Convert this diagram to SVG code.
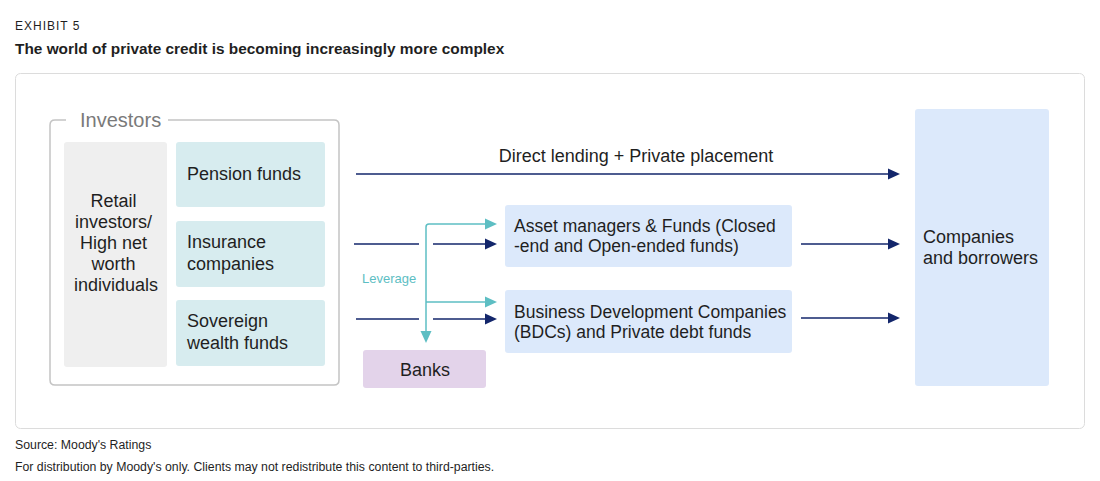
<svg xmlns="http://www.w3.org/2000/svg" width="1100" height="481" viewBox="0 0 1100 481">
  <style>
    text { font-family: "Liberation Sans", Arial, sans-serif; fill: #1f1f1f; }
    .eyebrow { font-size: 12px; letter-spacing: 1px; }
    .title { font-size: 15.4px; font-weight: bold; }
    .foot { font-size: 12.3px; }
    .lbl { font-size: 18px; }
    .mid { font-size: 17.5px; }
    .group { font-size: 20px; fill: #7a7a7a; }
    .lev { font-size: 13px; fill: #5dbec3; }
    .navy { stroke: #13266b; stroke-width: 1.5; fill: none; }
    .teal { stroke: #5dbec3; stroke-width: 1.5; fill: none; }
  </style>
  <defs>
    <marker id="arrNavy" markerUnits="userSpaceOnUse" markerWidth="12" markerHeight="12" refX="0" refY="6" orient="auto">
      <path d="M0,0.5 L12,6 L0,11.5 Z" fill="#13266b"/>
    </marker>
    <marker id="arrTeal" markerUnits="userSpaceOnUse" markerWidth="12" markerHeight="12" refX="0" refY="6" orient="auto">
      <path d="M0,0.5 L12,6 L0,11.5 Z" fill="#5dbec3"/>
    </marker>
  </defs>

  <rect width="1100" height="481" fill="#ffffff"/>

  <!-- heading -->
  <text class="eyebrow" x="15" y="30">EXHIBIT 5</text>
  <text class="title" x="15" y="54">The world of private credit is becoming increasingly more complex</text>

  <!-- chart panel -->
  <rect x="15.5" y="73.5" width="1069" height="355" rx="5" fill="#ffffff" stroke="#dcdcdc"/>

  <!-- investors frame -->
  <g id="investors">
    <path d="M66,120 H55 Q50,120 50,125 V380 Q50,385 55,385 H334 Q339,385 339,380 V125 Q339,120 334,120 H168" fill="none" stroke="#c4c4c4" stroke-width="1.5"/>
    <text class="group" x="80" y="127">Investors</text>
  </g>

  <g id="retail">
    <rect x="64" y="142" width="103" height="225" rx="3" fill="#efefef"/>
    <text class="lbl" text-anchor="middle">
      <tspan x="116" y="207">Retail</tspan>
      <tspan x="116" y="228">investors/</tspan>
      <tspan x="116" y="249">High net</tspan>
      <tspan x="116" y="270">worth</tspan>
      <tspan x="116" y="291">individuals</tspan>
    </text>
  </g>

  <g id="pension">
    <rect x="176" y="142" width="149" height="65" rx="3" fill="#d7ecef"/>
    <text class="lbl" x="187" y="180">Pension funds</text>
  </g>

  <g id="insurance">
    <rect x="176" y="221" width="149" height="66" rx="3" fill="#d7ecef"/>
    <text class="lbl"><tspan x="187" y="248">Insurance</tspan><tspan x="187" y="270">companies</tspan></text>
  </g>

  <g id="sovereign">
    <rect x="176" y="300" width="149" height="66" rx="3" fill="#d7ecef"/>
    <text class="lbl"><tspan x="187" y="327">Sovereign</tspan><tspan x="187" y="349">wealth funds</tspan></text>
  </g>

  <g id="asset-managers">
    <rect x="505" y="205" width="287" height="62" rx="3" fill="#dce9fb"/>
    <text class="mid"><tspan x="514" y="232">Asset managers &amp; Funds (Closed</tspan><tspan x="514" y="252">-end and Open-ended funds)</tspan></text>
  </g>

  <g id="bdc">
    <rect x="505" y="290" width="287" height="63" rx="3" fill="#dce9fb"/>
    <text class="mid"><tspan x="514" y="318">Business Development Companies</tspan><tspan x="514" y="338">(BDCs) and Private debt funds</tspan></text>
  </g>

  <g id="banks">
    <rect x="363" y="350" width="123" height="38" rx="3" fill="#e3d3ea"/>
    <text class="lbl" x="425" y="376" text-anchor="middle">Banks</text>
  </g>

  <g id="companies">
    <rect x="915" y="109" width="134" height="277" rx="3" fill="#dce9fb"/>
    <text class="lbl"><tspan x="923" y="243">Companies</tspan><tspan x="923" y="264">and borrowers</tspan></text>
  </g>

  <!-- connectors -->
  <g id="connectors">
    <text class="lbl" x="636" y="162" text-anchor="middle">Direct lending + Private placement</text>
    <line class="navy" x1="356" y1="174" x2="888" y2="174" marker-end="url(#arrNavy)"/>

    <line class="navy" x1="354" y1="244" x2="419" y2="244"/>
    <line class="navy" x1="433" y1="244" x2="485" y2="244" marker-end="url(#arrNavy)"/>
    <line class="navy" x1="356" y1="319" x2="419" y2="319"/>
    <line class="navy" x1="433" y1="319" x2="485" y2="319" marker-end="url(#arrNavy)"/>

    <line class="navy" x1="801" y1="244" x2="888" y2="244" marker-end="url(#arrNavy)"/>
    <line class="navy" x1="801" y1="318" x2="888" y2="318" marker-end="url(#arrNavy)"/>

    <path class="teal" d="M485,224 H429 Q426,224 426,227 V331" marker-end="url(#arrTeal)"/>
    <line class="teal" x1="426" y1="302" x2="485" y2="302" marker-end="url(#arrTeal)"/>
    <line class="teal" x1="485" y1="224" x2="485" y2="224" marker-end="url(#arrTeal)"/>
    <text class="lev" x="362" y="283">Leverage</text>
  </g>

  <!-- notes -->
  <text class="foot" x="15" y="449">Source: Moody's Ratings</text>
  <text class="foot" x="15" y="471">For distribution by Moody's only. Clients may not redistribute this content to third-parties.</text>
</svg>
